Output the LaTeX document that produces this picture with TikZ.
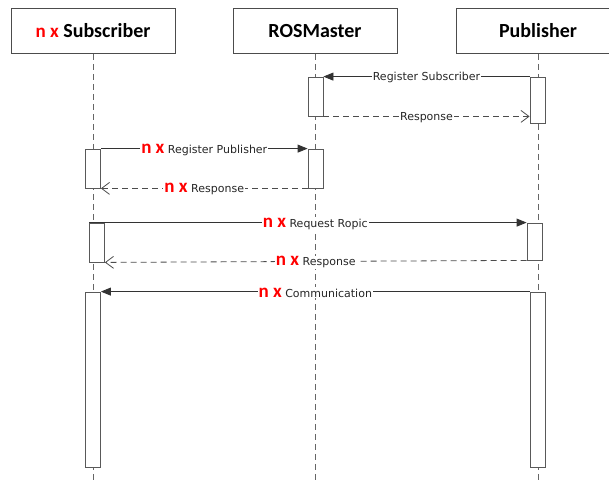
\documentclass[tikz,border=0pt]{standalone}
\usepackage{fontspec}
\setmainfont{DejaVu Sans}
\newfontfamily\headfont{Carlito}
\usetikzlibrary{arrows.meta,positioning}

\def\boxwidth{164pt}
\newcommand\nxtag{{\color{red}\headfont\bfseries\fontsize{19}{19}\selectfont n x}\ }

\begin{document}
\begin{tikzpicture}[x=1pt,y=-1pt,line width=0.8pt]
    \tikzstyle{actor}=[draw=black!70,fill=white,minimum width=\boxwidth,minimum height=45pt,inner sep=0pt,font=\headfont\bfseries\fontsize{20}{22}\selectfont]
    \tikzstyle{act}=[draw=black!65,fill=white,minimum width=15pt,inner sep=0pt]
    \tikzstyle{life}=[draw=black!60,dash pattern=on 6pt off 4pt]
    \tikzstyle{call}=[draw=black!80,-{Triangle[length=10pt,width=8pt]}]
    \tikzstyle{reply}=[draw=black!70,dash pattern=on 6pt off 4pt,-{Straight Barb[length=8pt,width=12pt]}]
    \tikzstyle{msg}=[fill=white,inner sep=1pt,yshift=-1pt,text=black!85,font=\fontsize{11}{12}\selectfont]

    \useasboundingbox (0,0) rectangle (609,481);
    \clip (0,0) rectangle (609,481);

    % Draw the header boxes
    \node[actor] (sub) at (93,31) {\nxtag Subscriber};
    \node[actor] (ros) at (315,31) {ROSMaster};
    \node[actor] (pub) at (538,31) {Publisher};

    % Draw the lifelines
    \coordinate (sub-end) at (93,481);
    \coordinate (ros-end) at (315,481);
    \coordinate (pub-end) at (538,481);
    \draw[life] (sub.south) -- (sub-end);
    \draw[life] (ros.south) -- (ros-end);
    \draw[life] (pub.south) -- (pub-end);

    % Draw the activation boxes
    \node[act,minimum height=39pt] (ra1) at (315.5,96.5) {};
    \node[act,minimum height=46pt] (pa1) at (537.5,100) {};
    \node[act,minimum height=39pt] (sa1) at (93,168.5) {};
    \node[act,minimum height=39pt] (ra2) at (315.5,168.5) {};
    \node[act,minimum height=39pt] (sa2) at (97,242.5) {};
    \node[act,minimum height=37pt] (pa2) at (534.5,241.5) {};
    \node[act,minimum height=175pt] (sa3) at (93,379.5) {};
    \node[act,minimum height=175pt] (pa3) at (537.5,379.5) {};

    % Registration with the master
    \draw[call] (pa1.north west) -- node[msg] {Register Subscriber} (ra1.north east);
    \draw[reply] (ra1.south east) -- node[msg] {Response} (ra1.south east -| pa1.west);
    \draw[call] (sa1.north east) -- node[msg] {\nxtag Register Publisher} (ra2.north west);
    \draw[reply] (ra2.south west) -- node[msg] {\nxtag Response} (sa1.south east);

    % Topic request and communication
    \draw[call] (sa2.north west) -- node[msg,pos=0.517] {\nxtag Request Ropic} (pa2.north west);
    \draw[reply] (pa2.south west) -- node[msg] {\nxtag Response} (sa2.south east);
    \draw[call] (pa3.north west) -- node[msg] {\nxtag Communication} (sa3.north east);
\end{tikzpicture}
\end{document}
